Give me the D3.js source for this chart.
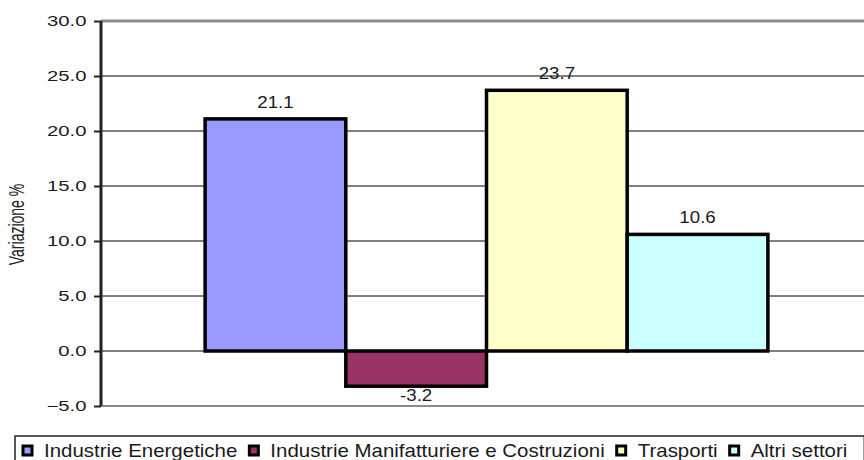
<!DOCTYPE html>
<html>
<head>
  <meta charset="utf-8">
  <style>
    html, body { margin: 0; background: #fff; overflow: hidden; }
    svg { display: block; font-family: "Liberation Sans", Arial, sans-serif; }
    .grid line { stroke: #000; stroke-width: 1px; }
    .bar { stroke: #000; stroke-width: 3.5px; }
  </style>
  <script src="https://d3js.org/d3.v7.min.js"></script>
</head>
<body>
  <svg id="chart" width="864" height="460"></svg>
  <script>
    var series = ["Industrie Energetiche", "Industrie Manifatturiere e Costruzioni", "Trasporti", "Altri settori"];
    var values = [21.1, -3.2, 23.7, 10.6];
    var colors = ["#9999ff", "#993366", "#ffffcc", "#ccffff"];
    var yTicks = [-5, 0, 5, 10, 15, 20, 25, 30];
    var yLabel = "Variazione %";

    var W = 864, H = 460;
    var margin = {top: 21, right: -8, bottom: 54, left: 101};
    var width = W - margin.left - margin.right;
    var height = H - margin.top - margin.bottom;

    var svg = d3.select("#chart");
    var g = svg.append("g")
      .attr("transform", "translate(" + margin.left + "," + margin.top + ")");

    var y = d3.scaleLinear().domain([-5, 30]).range([height, 0]);
    var x = d3.scaleBand().domain(series).range([0, width])
      .paddingInner(0).paddingOuter(0.74);

    // gridlines
    g.append("g").attr("class", "grid")
      .selectAll("line")
      .data(yTicks.filter(function(d){ return d > -5 && d < 30; }))
      .enter().append("line")
      .attr("x1", 0).attr("x2", width)
      .attr("y1", function(d){ return y(d); })
      .attr("y2", function(d){ return y(d); });

    // plot area top / bottom border (grey)
    g.append("line")
      .attr("x1", 0).attr("x2", width)
      .attr("y1", y(30)).attr("y2", y(30))
      .style("stroke", "#8c8c8c").style("stroke-width", 3);
    g.append("line")
      .attr("x1", 0).attr("x2", width)
      .attr("y1", y(-5)).attr("y2", y(-5))
      .style("stroke", "#8c8c8c").style("stroke-width", 2);

    // bars
    g.selectAll(".bar").data(values).enter().append("rect")
      .attr("class", "bar")
      .attr("x", function(d, i){ return x(series[i]); })
      .attr("width", x.bandwidth())
      .attr("y", function(d){ return y(Math.max(0, d)); })
      .attr("height", function(d){ return Math.abs(y(d) - y(0)); })
      .style("fill", function(d, i){ return colors[i]; });

    // value labels
    g.selectAll(".val").data(values).enter().append("text")
      .attr("class", "val")
      .attr("transform", function(d, i){
        var cx = x(series[i]) + x.bandwidth() / 2;
        var ty = d >= 0 ? y(d) - 11 : y(d) + 15;
        return "translate(" + cx + "," + ty + ") scale(1.1,1)";
      })
      .attr("text-anchor", "middle")
      .style("font-size", "17px")
      .style("fill", "#1a1a1a")
      .text(function(d){ return d.toFixed(1); });

    // y axis
    var yAxis = d3.axisLeft(y).tickValues(yTicks).tickSize(7).tickPadding(3)
      .tickFormat(d3.format(".1f"));
    var yg = g.append("g").call(yAxis);
    yg.select(".domain").attr("d", "M0," + y(30) + "V" + y(-5))
      .style("stroke", "#222").style("stroke-width", 3);
    yg.selectAll(".tick line").style("stroke", "#222").style("stroke-width", 2);
    yg.selectAll(".tick text")
      .attr("transform", "scale(1.45,1)")
      .style("font-size", "14px")
      .style("font-family", "'Liberation Sans', Arial, sans-serif")
      .style("fill", "#1a1a1a");

    // y label
    svg.append("text")
      .attr("transform", "translate(24," + (margin.top + y(11.5)) + ") scale(1.55,1) rotate(-90)")
      .attr("text-anchor", "middle")
      .style("font-size", "14px")
      .style("fill", "#222")
      .text(yLabel);

    // legend
    var leg = svg.append("g");
    var legBox = leg.append("rect")
      .attr("x", 15).attr("y", 436).attr("height", 40)
      .style("fill", "#fff").style("stroke", "#222").style("stroke-width", 1.5);
    var cursor = 23;
    series.forEach(function(s, i){
      leg.append("rect")
        .attr("x", cursor).attr("y", 446).attr("width", 9).attr("height", 9)
        .style("fill", colors[i]).style("stroke", "#000").style("stroke-width", 3);
      var t = leg.append("text")
        .attr("transform", "translate(" + (cursor + 21) + ",457) scale(1.17,1)")
        .style("font-size", "17.5px")
        .style("fill", "#1a1a1a")
        .text(s);
      cursor = cursor + 21 + t.node().getComputedTextLength() * 1.17 + 12;
    });
    legBox.attr("width", cursor + 5 - 15);
  </script>
</body>
</html>
